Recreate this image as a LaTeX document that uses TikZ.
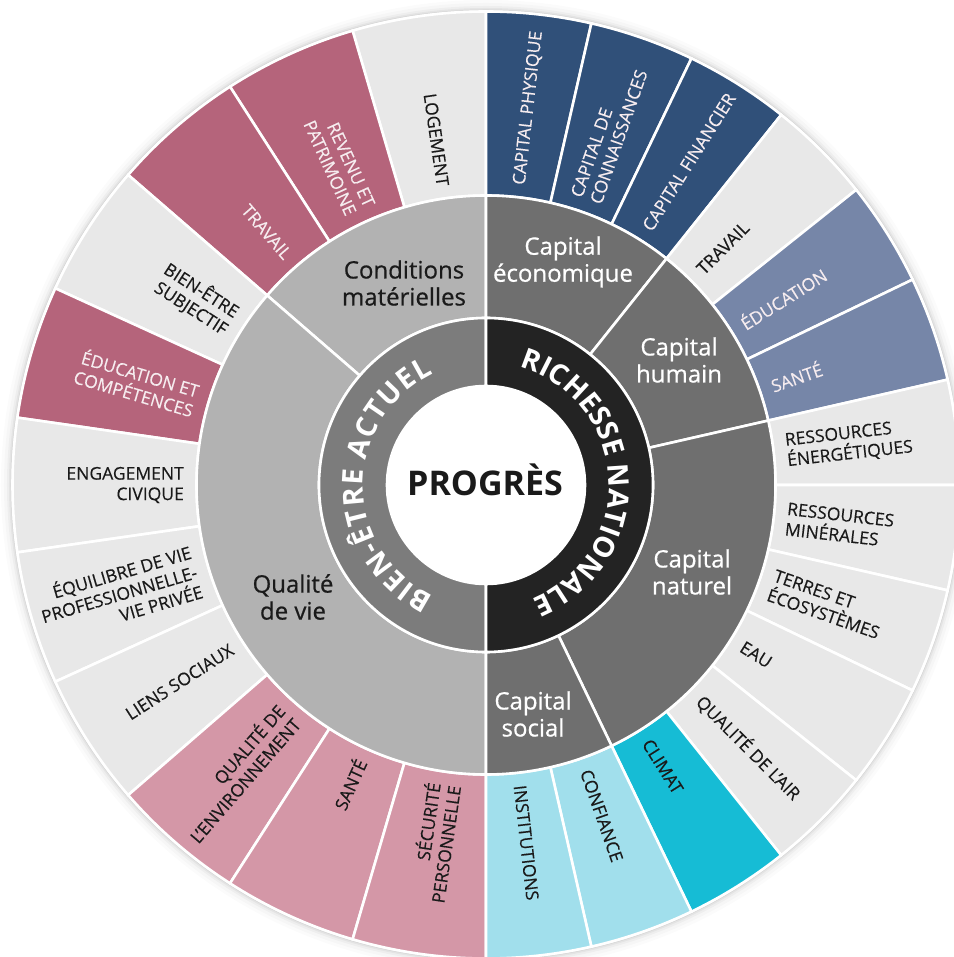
\documentclass[tikz,border=0pt]{standalone}
\usepackage{fontspec}
\setmainfont{Open Sans}
\newfontfamily\catfont{Open Sans}[FakeBold=0.6]
\newfontfamily\labfont{Open Sans}[FakeBold=0.3]
\usetikzlibrary{decorations.text}
\definecolor{mauve}{HTML}{B5647B}
\definecolor{pinkl}{HTML}{D497A7}
\definecolor{grayo}{HTML}{E8E8E8}
\definecolor{navy}{HTML}{305079}
\definecolor{slate}{HTML}{7686A8}
\definecolor{cyanc}{HTML}{16BCD5}
\definecolor{cyanl}{HTML}{A1DFEC}
\definecolor{midl}{HTML}{B2B2B2}
\definecolor{midr}{HTML}{6F6F6F}
\definecolor{innl}{HTML}{7C7C7C}
\definecolor{innr}{HTML}{232323}
\definecolor{txtd}{HTML}{1A1A1A}
\definecolor{txtl}{HTML}{F6ECEF}
\newcommand\mysect[5]{\path[seg,#5] (#1:#3pt) arc[start angle=#1, end angle=#2, radius=#3pt] -- (#2:#4pt) arc[start angle=#2, end angle=#1, radius=#4pt] -- cycle;}
\begin{document}
\begin{tikzpicture}[x=1pt,y=1pt,
  seg/.style={draw=white, line width=2.6pt, line join=miter},
  olab/.style={font=\labfont\fontsize{17.5}{20.5}\selectfont, inner sep=0pt},
  llab/.style={olab, anchor=east, align=right},
  rlab/.style={olab, anchor=west, align=left},
  clab/.style={font=\catfont\fontsize{24}{27}\selectfont, align=center, inner sep=0pt},
]
\useasboundingbox (-486,-472) rectangle (467,485);
\fill[white] (-486,-472) rectangle (467,485);
% soft shadow
\foreach \r/\o in {485/0.015, 482/0.02, 479/0.03, 477/0.04, 475.5/0.05}
  \fill[black, opacity=\o] (0,0) circle[radius=\r pt];
\fill[white] (0,0) circle[radius=474.5pt];
% outer ring, left half
\foreach \i/\f in {0/grayo,1/mauve,2/mauve,3/grayo,4/mauve,5/grayo,6/grayo,7/grayo,8/pinkl,9/pinkl,10/pinkl}{
  \pgfmathsetmacro\sa{90+\i*180/11}
  \pgfmathsetmacro\ea{90+(\i+1)*180/11}
  \mysect{\sa}{\ea}{289.5}{473.5}{fill=\f}
}
% outer ring, right half
\foreach \j/\f in {0/navy,1/navy,2/navy,3/grayo,4/slate,5/slate,6/grayo,7/grayo,8/grayo,9/grayo,10/grayo,11/cyanc,12/cyanl,13/cyanl}{
  \pgfmathsetmacro\sa{90-\j*180/14}
  \pgfmathsetmacro\ea{90-(\j+1)*180/14}
  \mysect{\sa}{\ea}{289.5}{473.5}{fill=\f}
}
% middle ring
\mysect{90}{139.0909}{167}{289.5}{fill=midl}
\mysect{139.0909}{270}{167}{289.5}{fill=midl}
\mysect{90}{51.4286}{167}{289.5}{fill=midr}
\mysect{51.4286}{12.8571}{167}{289.5}{fill=midr}
\mysect{12.8571}{-64.2857}{167}{289.5}{fill=midr}
\mysect{-64.2857}{-90}{167}{289.5}{fill=midr}
% inner ring
\mysect{90}{270}{99}{167}{fill=innl}
\mysect{-90}{90}{99}{167}{fill=innr}
\fill[white] (0,0) circle[radius=99pt];
% centre
\node[font=\fontsize{34}{34}\selectfont\bfseries, anchor=base, text=txtd, inner sep=0pt] (prog) at (-1,-11) {PROGRÈS};
% curved titles
\path[decorate, decoration={text along path, text align=center, text color=white,
  text={|\fontsize{28.5}{28.5}\selectfont\bfseries|{B\kern1.2pt}{I\kern1.2pt}{E\kern1.2pt}{N\kern1.2pt}{-\kern1.2pt}{Ê\kern1.2pt}{T\kern1.2pt}{R\kern1.2pt}{E\kern1.2pt}{ \kern1.2pt}{A\kern1.2pt}{C\kern1.2pt}{T\kern1.2pt}{U\kern1.2pt}{E\kern1.2pt}{L}}}]
  (245:123pt) arc[start angle=245, end angle=115, radius=123pt];
\path[decorate, decoration={text along path, text align=center, text color=white,
  text={|\fontsize{28.5}{28.5}\selectfont\bfseries|RICHESSE NATIONALE}}]
  (93:123pt) arc[start angle=93, end angle=-87, radius=123pt];
% category labels
\node[clab, text=txtd] (cm) at (-82,202) {Conditions\\matérielles};
\node[clab, text=txtd] (qv) at (-193,-112) {Qualité\\de vie};
\node[clab, text=white] (ce) at (77,223) {Capital\\économique};
\node[clab, text=white] (ch) at (193,125) {Capital\\humain};
\node[clab, text=white] (cn) at (206,-87) {Capital\\naturel};
\node[clab, text=white] (cs) at (47,-229) {Capital\\social};
% outer labels, left
\foreach \i/\t/\c in {0/{LOGEMENT}/txtd, 1/{REVENU ET\\PATRIMOINE}/txtl, 2/{TRAVAIL}/txtl,
  3/{BIEN-ÊTRE\\SUBJECTIF}/txtd, 4/{ÉDUCATION ET\\COMPÉTENCES}/txtl, 5/{ENGAGEMENT\\CIVIQUE}/txtd,
  6/{ÉQUILIBRE DE VIE\\PROFESSIONNELLE-\\VIE PRIVÉE}/txtd, 7/{LIENS SOCIAUX}/txtd,
  8/{QUALITÉ DE\\L’ENVIRONNEMENT}/txtd, 9/{SANTÉ}/txtd, 10/{SÉCURITÉ\\PERSONNELLE}/txtd}{
  \pgfmathsetmacro\a{90+(\i+0.5)*180/11}
  \node[llab, text=\c, rotate=\a-180] (L\i) at (\a:302pt) {\t};
}
% outer labels, right
\foreach \j/\t/\c in {0/{CAPITAL PHYSIQUE}/txtl, 1/{CAPITAL DE\\CONNAISSANCES}/txtl, 2/{CAPITAL FINANCIER}/txtl,
  3/{TRAVAIL}/txtd, 4/{ÉDUCATION}/txtl, 5/{SANTÉ}/txtl, 6/{RESSOURCES\\ÉNERGÉTIQUES}/txtd,
  7/{RESSOURCES\\MINÉRALES}/txtd, 8/{TERRES ET\\ÉCOSYSTÈMES}/txtd, 9/{EAU}/txtd,
  10/{QUALITÉ DE L’AIR}/txtd, 11/{CLIMAT}/txtd, 12/{CONFIANCE}/txtd, 13/{INSTITUTIONS}/txtd}{
  \pgfmathsetmacro\a{90-(\j+0.5)*180/14}
  \node[rlab, text=\c, rotate=\a] (R\j) at (\a:302pt) {\t};
}
\end{tikzpicture}
\end{document}
